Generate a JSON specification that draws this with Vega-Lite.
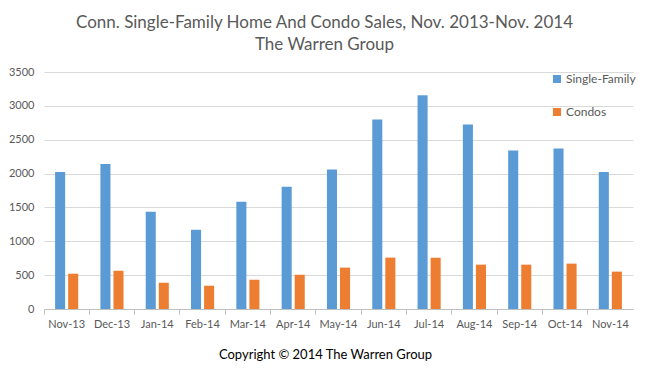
{
  "$schema": "https://vega.github.io/schema/vega-lite/v6.json",
  "width": 589,
  "height": 237,
  "autosize": {"type": "none"},
  "padding": {"left": 44, "top": 72, "right": 16, "bottom": 62},
  "background": "white",
  "title": {
    "text": ["Conn. Single-Family Home And Condo Sales, Nov. 2013-Nov. 2014", "The Warren Group"],
    "font": "Lato",
    "fontSize": 17,
    "fontWeight": "normal",
    "color": "#595959",
    "anchor": "middle",
    "dx": -14,
    "offset": 12,
    "lineHeight": 22
  },
  "data": {
    "values": [
      {"month": "Nov-13", "type": "Single-Family", "sales": 2025},
      {"month": "Nov-13", "type": "Condos", "sales": 521},
      {"month": "Dec-13", "type": "Single-Family", "sales": 2143},
      {"month": "Dec-13", "type": "Condos", "sales": 565},
      {"month": "Jan-14", "type": "Single-Family", "sales": 1435},
      {"month": "Jan-14", "type": "Condos", "sales": 388},
      {"month": "Feb-14", "type": "Single-Family", "sales": 1170},
      {"month": "Feb-14", "type": "Condos", "sales": 344},
      {"month": "Mar-14", "type": "Single-Family", "sales": 1583},
      {"month": "Mar-14", "type": "Condos", "sales": 432},
      {"month": "Apr-14", "type": "Single-Family", "sales": 1804},
      {"month": "Apr-14", "type": "Condos", "sales": 506},
      {"month": "May-14", "type": "Single-Family", "sales": 2060},
      {"month": "May-14", "type": "Condos", "sales": 611},
      {"month": "Jun-14", "type": "Single-Family", "sales": 2800},
      {"month": "Jun-14", "type": "Condos", "sales": 759},
      {"month": "Jul-14", "type": "Single-Family", "sales": 3155},
      {"month": "Jul-14", "type": "Condos", "sales": 757},
      {"month": "Aug-14", "type": "Single-Family", "sales": 2726},
      {"month": "Aug-14", "type": "Condos", "sales": 655},
      {"month": "Sep-14", "type": "Single-Family", "sales": 2341},
      {"month": "Sep-14", "type": "Condos", "sales": 655},
      {"month": "Oct-14", "type": "Single-Family", "sales": 2371},
      {"month": "Oct-14", "type": "Condos", "sales": 670},
      {"month": "Nov-14", "type": "Single-Family", "sales": 2025},
      {"month": "Nov-14", "type": "Condos", "sales": 552}
    ]
  },
  "mark": {"type": "bar"},
  "encoding": {
    "x": {
      "field": "month",
      "type": "nominal",
      "sort": null,
      "scale": {"paddingInner": 0, "paddingOuter": 0},
      "axis": {
        "title": "Copyright © 2014 The Warren Group",
        "titleFont": "Lato",
        "titleFontSize": 13,
        "titleFontWeight": "normal",
        "titleColor": "#000000",
        "titlePadding": 19,
        "titleX": 281,
        "labelAngle": 0,
        "labelFont": "Lato",
        "labelFontSize": 11,
        "labelColor": "#595959",
        "labelPadding": 4,
        "bandPosition": 0,
        "tickSize": 5,
        "tickColor": "#bfbfbf",
        "domainColor": "#bfbfbf",
        "grid": false
      }
    },
    "xOffset": {
      "field": "type",
      "type": "nominal",
      "sort": ["Single-Family", "Condos"],
      "scale": {"paddingInner": 0.23, "paddingOuter": 0.85}
    },
    "y": {
      "field": "sales",
      "type": "quantitative",
      "scale": {"domain": [0, 3500], "nice": false},
      "axis": {
        "title": null,
        "values": [0, 500, 1000, 1500, 2000, 2500, 3000, 3500],
        "format": "d",
        "domain": false,
        "ticks": false,
        "labelPadding": 10,
        "labelFont": "Lato",
        "labelFontSize": 11,
        "labelColor": "#595959",
        "gridColor": "#d9d9d9"
      }
    },
    "color": {
      "field": "type",
      "type": "nominal",
      "sort": ["Single-Family", "Condos"],
      "scale": {"domain": ["Single-Family", "Condos"], "range": ["#5B9BD5", "#ED7D31"]},
      "legend": {
        "title": null,
        "orient": "none",
        "legendX": 507,
        "legendY": 1,
        "symbolType": "square",
        "symbolSize": 64,
        "symbolStrokeWidth": 0,
        "labelFont": "Lato",
        "labelFontSize": 12,
        "labelColor": "#595959",
        "rowPadding": 21,
        "labelOffset": 3
      }
    }
  },
  "config": {"view": {"stroke": null}}
}
